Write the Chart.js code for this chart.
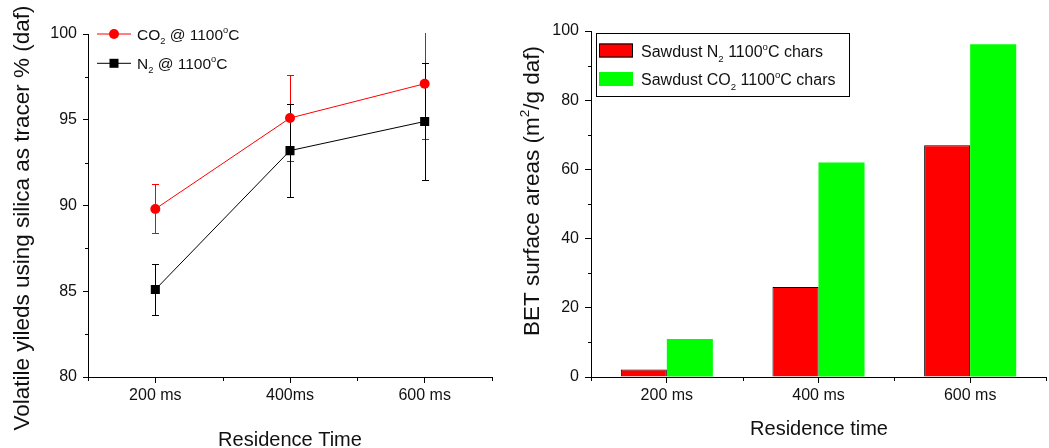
<!DOCTYPE html>
<html lang="en">
<head>
<meta charset="UTF-8">
<title>Volatile yields and BET surface areas</title>
<style>
    body {
        margin: 0;
        background: #fff;
    }

    #wrap {
        position: relative;
        width: 1049px;
        height: 448px;
        overflow: hidden;
    }

    canvas {
        position: absolute;
        top: 0;
    }

    #yieldChart { left: 0; }
    #betChart { left: 520px; }
</style>
</head>
<body>
<div id="wrap">
    <canvas id="yieldChart" width="520" height="448"></canvas>
    <canvas id="betChart" width="529" height="448"></canvas>
</div>

<script src="https://cdn.jsdelivr.net/npm/chart.js@4"></script>
<script>
    // ---- data ----
    const yieldLabels = ['200 ms', '400ms', '600 ms'];
    const co2Yield = [89.8, 95.1, 97.1];
    const co2YieldErr = [1.43, 2.5, 3.2];
    const n2Yield = [85.1, 93.2, 94.9];
    const n2YieldErr = [1.5, 2.7, 3.4];

    const betLabels = ['200 ms', '400 ms', '600 ms'];
    const n2Bet = [2.2, 26, 67];
    const co2Bet = [11, 62, 96.2];

    // legend / title text; _x = subscript, ^x = superscript
    const yieldLegend = ['CO_2 @ 1100^oC', 'N_2 @ 1100^oC'];
    const betLegend = ['Sawdust N_2 1100^oC chars', 'Sawdust CO_2 1100^oC chars'];
    const yieldTitleY = 'Volatile yileds using silica as tracer % (daf)';
    const betTitleY = 'BET surface areas (m^2/g daf)';
    const yieldTitleX = 'Residence Time';
    const betTitleX = 'Residence time';

    const FONT = '"Liberation Sans", Arial, sans-serif';
    const INK = '#111';

    Chart.defaults.font.family = FONT;
    Chart.defaults.font.size = 16;
    Chart.defaults.color = INK;

    // split "CO_2" style strings into runs
    function richParts(str) {
        const out = [];
        let buf = '';
        for (let i = 0; i < str.length; i++) {
            const c = str[i];
            if ((c === '_' || c === '^') && i + 1 < str.length) {
                if (buf) out.push({ t: buf });
                buf = '';
                out.push({ t: str[i + 1], sub: c === '_', sup: c === '^' });
                i++;
            } else {
                buf += c;
            }
        }
        if (buf) out.push({ t: buf });
        return out;
    }

    function drawRich(ctx, str, x, y, size, align) {
        const parts = richParts(str);
        const fontFor = p => ((p.sub || p.sup) ? size * 0.6 : size) + 'px ' + FONT;
        let total = 0;
        parts.forEach(p => { ctx.font = fontFor(p); total += ctx.measureText(p.t).width; });
        let cx = align === 'center' ? x - total / 2 : x;
        ctx.textAlign = 'left';
        ctx.textBaseline = 'alphabetic';
        parts.forEach(p => {
            ctx.font = fontFor(p);
            const dy = p.sub ? size * 0.3 : (p.sup ? -size * 0.45 : 0);
            ctx.fillText(p.t, cx, y + dy);
            cx += ctx.measureText(p.t).width;
        });
    }

    // minor ticks between labelled ticks and on category boundaries
    function drawMinorTicks(chart) {
        const ctx = chart.ctx;
        const xs = chart.scales.x, ys = chart.scales.y;
        const area = chart.chartArea;
        ctx.save();
        ctx.strokeStyle = '#000';
        ctx.lineWidth = 1;
        ctx.beginPath();
        const t = ys.ticks;
        for (let i = 0; i < t.length - 1; i++) {
            const py = Math.round(ys.getPixelForValue((t[i].value + t[i + 1].value) / 2)) + 0.5;
            ctx.moveTo(area.left - 3, py);
            ctx.lineTo(area.left, py);
        }
        const n = xs.getLabels().length;
        for (let i = 0; i <= n; i++) {
            const px = Math.round(xs.getPixelForValue(i - 0.5)) + 0.5;
            ctx.moveTo(px, area.bottom);
            ctx.lineTo(px, area.bottom + 4);
        }
        ctx.stroke();
        ctx.restore();
    }

    function drawTitles(chart, xText, xCenter, xBase, yText, yBase, yCenter) {
        const ctx = chart.ctx;
        ctx.save();
        ctx.fillStyle = INK;
        drawRich(ctx, xText, xCenter, xBase, 20, 'center');
        ctx.translate(yBase, yCenter);
        ctx.rotate(-Math.PI / 2);
        drawRich(ctx, yText, 0, 0, 22.5, 'center');
        ctx.restore();
    }

    const errorBars = {
        id: 'errorBars',
        beforeDatasetsDraw(chart) {
            const ctx = chart.ctx;
            const area = chart.chartArea;
            const errs = [co2YieldErr, n2YieldErr];
            ctx.save();
            ctx.beginPath();
            ctx.rect(area.left, area.top - 1, area.right - area.left, area.bottom - area.top + 1);
            ctx.clip();
            chart.data.datasets.forEach((ds, di) => {
                const meta = chart.getDatasetMeta(di);
                ctx.strokeStyle = ds.borderColor;
                ctx.lineWidth = 1;
                ctx.beginPath();
                meta.data.forEach((pt, i) => {
                    const v = ds.data[i], e = errs[di][i];
                    const px = Math.round(pt.x) + 0.5;
                    const top = Math.round(chart.scales.y.getPixelForValue(v + e)) + 0.5;
                    const bot = Math.round(chart.scales.y.getPixelForValue(v - e)) + 0.5;
                    ctx.moveTo(px, top); ctx.lineTo(px, bot);
                    ctx.moveTo(px - 3.5, top); ctx.lineTo(px + 3.5, top);
                    ctx.moveTo(px - 3.5, bot); ctx.lineTo(px + 3.5, bot);
                });
                ctx.stroke();
            });
            ctx.restore();
        }
    };

    const yieldDecor = {
        id: 'yieldDecor',
        afterDraw(chart) {
            drawMinorTicks(chart);
            drawTitles(chart, yieldTitleX, 290, 446, yieldTitleY, 28.5, 218);

            // legend: line + marker, top-left inside the plot
            const ctx = chart.ctx;
            const rows = [34, 63.3];
            ctx.save();
            chart.data.datasets.forEach((ds, i) => {
                const y = rows[i];
                ctx.strokeStyle = ds.borderColor;
                ctx.fillStyle = ds.borderColor;
                ctx.lineWidth = 1;
                ctx.beginPath();
                ctx.moveTo(97, y);
                ctx.lineTo(131, y);
                ctx.stroke();
                if (ds.pointStyle === 'rect') {
                    ctx.fillRect(114 - 4.5, y - 4.5, 9, 9);
                } else {
                    ctx.beginPath();
                    ctx.arc(114, y, 5, 0, Math.PI * 2);
                    ctx.fill();
                }
                ctx.fillStyle = INK;
                drawRich(ctx, yieldLegend[i], 137, y + 5.5, 15.5, 'left');
            });
            ctx.restore();
        }
    };

    const betDecor = {
        id: 'betDecor',
        afterDraw(chart) {
            drawMinorTicks(chart);
            drawTitles(chart, betTitleX, 299, 435, betTitleY, 19, 191);

            // boxed legend with colour swatches
            const ctx = chart.ctx;
            ctx.save();
            ctx.fillStyle = '#fff';
            ctx.fillRect(76.5, 33.5, 253, 63);
            ctx.strokeStyle = '#000';
            ctx.lineWidth = 1;
            ctx.strokeRect(76.5, 33.5, 253, 63);
            const rows = [{ top: 43.5, base: 56.7 }, { top: 72, base: 85 }];
            chart.data.datasets.forEach((ds, i) => {
                const r = rows[i];
                ctx.fillStyle = ds.backgroundColor;
                ctx.fillRect(79, r.top, 34, 14);
                if (ds.borderWidth) {
                    ctx.strokeStyle = ds.borderColor;
                    ctx.strokeRect(79.5, r.top + 0.5, 33, 13);
                }
                ctx.fillStyle = INK;
                drawRich(ctx, betLegend[i], 121, r.base, 16, 'left');
            });
            ctx.restore();
        }
    };

    const axisBase = {
        border: { display: true, color: '#000', width: 1 },
        grid: { drawOnChartArea: false, color: '#000', tickLength: 6, offset: false }
    };

    new Chart(document.getElementById('yieldChart'), {
        type: 'line',
        data: {
            labels: yieldLabels,
            datasets: [{
                label: 'CO₂ @ 1100°C',
                data: co2Yield,
                borderColor: '#ff0000',
                backgroundColor: '#ff0000',
                borderWidth: 1,
                pointStyle: 'circle',
                pointRadius: 5,
                pointBorderWidth: 0,
                order: 2
            }, {
                label: 'N₂ @ 1100°C',
                data: n2Yield,
                borderColor: '#000000',
                backgroundColor: '#000000',
                borderWidth: 1,
                pointStyle: 'rect',
                pointRadius: 6.4,
                pointBorderWidth: 0,
                order: 1
            }]
        },
        options: {
            responsive: false,
            animation: false,
            events: [],
            layout: { padding: { left: 0, right: 28, top: 34, bottom: 0 } },
            plugins: { legend: { display: false }, tooltip: { enabled: false } },
            scales: {
                x: {
                    ...axisBase,
                    offset: true,
                    ticks: { padding: 3, maxRotation: 0 },
                    afterFit: s => { s.height = 71; }
                },
                y: {
                    ...axisBase,
                    grid: { ...axisBase.grid, tickLength: 5 },
                    min: 80,
                    max: 100,
                    ticks: { stepSize: 5, padding: 6 },
                    afterFit: s => { s.width = 88; }
                }
            }
        },
        plugins: [errorBars, yieldDecor]
    });

    new Chart(document.getElementById('betChart'), {
        type: 'bar',
        data: {
            labels: betLabels,
            datasets: [{
                label: 'Sawdust N₂ 1100°C chars',
                data: n2Bet,
                backgroundColor: '#ff0000',
                borderColor: '#000000',
                borderWidth: 1
            }, {
                label: 'Sawdust CO₂ 1100°C chars',
                data: co2Bet,
                backgroundColor: '#00ff00',
                borderWidth: 0
            }]
        },
        options: {
            responsive: false,
            animation: false,
            events: [],
            layout: { padding: { left: 0, right: 3, top: 31, bottom: 0 } },
            datasets: { bar: { categoryPercentage: 0.607, barPercentage: 1 } },
            plugins: { legend: { display: false }, tooltip: { enabled: false } },
            scales: {
                x: {
                    ...axisBase,
                    offset: true,
                    ticks: { padding: 3, maxRotation: 0 },
                    afterFit: s => { s.height = 71; }
                },
                y: {
                    ...axisBase,
                    min: 0,
                    max: 100,
                    ticks: { stepSize: 20, padding: 6 },
                    afterFit: s => { s.width = 71; }
                }
            }
        },
        plugins: [betDecor]
    });
</script>
</body>
</html>
